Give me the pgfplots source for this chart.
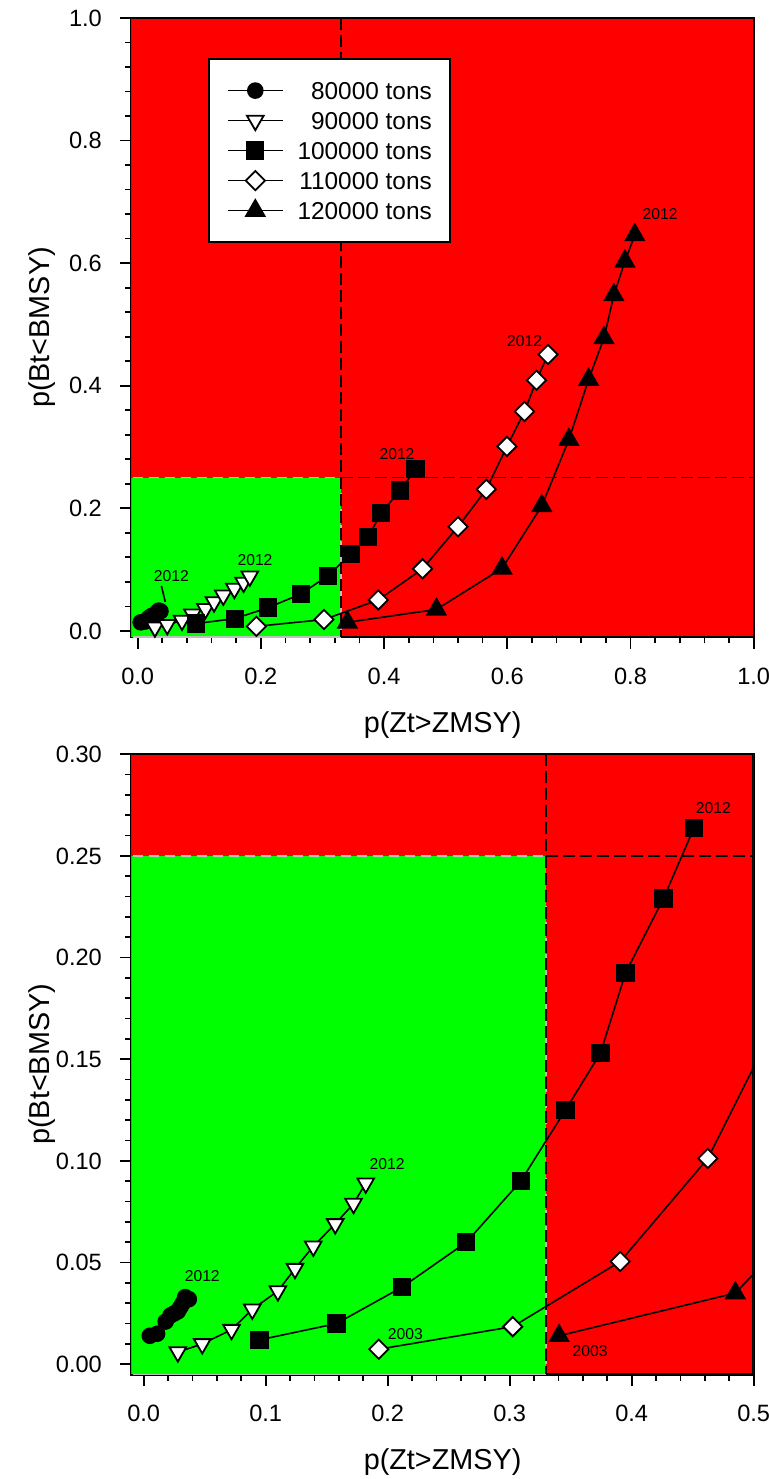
\documentclass[border=0pt]{standalone}
\usepackage{pgfplots}
\pgfplotsset{compat=1.18}
\usepackage{pgfplotstable}
\usepackage{fontspec}
\setmainfont{Liberation Sans}

\definecolor{zred}{RGB}{255,0,0}
\definecolor{zgreen}{RGB}{0,255,0}
\definecolor{zgrey}{RGB}{190,190,190}

% p(Zt>ZMSY)  p(Bt<BMSY), years 2003-2012
\pgfplotstableread{
x y
0.005 0.014
0.011 0.015
0.018 0.021
0.022 0.024
0.025 0.025
0.028 0.026
0.030 0.028
0.032 0.030
0.034 0.033
0.037 0.032
}\tEighty
\pgfplotstableread{
x y
0.028 0.006
0.048 0.010
0.072 0.017
0.089 0.027
0.110 0.036
0.124 0.047
0.139 0.058
0.157 0.069
0.172 0.079
0.182 0.089
}\tNinety
\pgfplotstableread{
x y
0.095 0.012
0.158 0.020
0.212 0.038
0.2645 0.060
0.309 0.090
0.3457 0.125
0.3744 0.153
0.395 0.1925
0.426 0.229
0.451 0.2636
}\tHundred
\pgfplotstableread{
x y
0.1927 0.0074
0.3025 0.0185
0.3906 0.0505
0.4624 0.1012
0.520 0.170
0.566 0.231
0.5995 0.301
0.628 0.358
0.6475 0.409
0.666 0.451
}\tHundredTen
\pgfplotstableread{
x y
0.3405 0.014
0.485 0.035
0.5915 0.102
0.656 0.204
0.700 0.312
0.732 0.410
0.757 0.478
0.773 0.548
0.791 0.603
0.807 0.646
}\tHundredTwenty

\tikzset{note/.style={font=\fontsize{7.85}{9}\selectfont, inner sep=0pt}}

\pgfplotsset{
  kobe/.style={
    scale only axis, width=311.1pt,
    xmin=-0.01,
    tick align=outside, tick pos=left,
    minor tick num=4,
    major tick length=5.8pt, minor tick length=3.2pt,
    every tick/.style={black, line width=0.85pt},
    axis line style={line width=1.2pt},
    ticklabel style={font=\fontsize{11.8}{14}\selectfont},
    xticklabel style={yshift=-6pt},
    yticklabel style={xshift=-5.5pt},
    /pgf/number format/assume math mode=true,
    label style={font=\fontsize{14.4}{17}\selectfont},
    xlabel={p(Zt>ZMSY)}, ylabel={p(Bt<BMSY)},
    xlabel style={at={(axis description cs:0.5,-0.142)}, anchor=center},
    ylabel style={at={(axis description cs:-0.1438,0.5)}, anchor=center},
    legend image code/.code={\draw[mark repeat=2,mark phase=2] plot coordinates {(0pt,0pt)(13.8pt,0pt)(27.6pt,0pt)};},
  },
  s80/.style={black, line width=0.8pt, mark=*, mark size=3.7pt, mark options={solid, fill=black, line width=0.9pt}},
  s90/.style={black, line width=0.8pt, mark=triangle*, mark size=4.8pt, mark options={solid, fill=white, line width=0.9pt, rotate=180}},
  s100/.style={black, line width=0.8pt, mark=square*, mark size=4.1pt, mark options={solid, fill=black, line width=0.9pt}},
  s110/.style={black, line width=0.8pt, mark=square*, mark size=3.4pt, mark options={solid, fill=white, line width=0.9pt, rotate=45}},
  s120/.style={black, line width=0.8pt, mark=triangle*, mark size=5.3pt, mark options={solid, fill=black, line width=0.9pt}},
}

\begin{document}
\begin{tikzpicture}
\useasboundingbox (0,0) rectangle (384.5pt,-739.5pt);

% upper panel: whole range
\begin{axis}[kobe, at={(65.75pt,-9pt)}, anchor=north west, height=309.5pt,
    xmax=1, ymin=-0.01, ymax=1,
    xtick={0,0.2,0.4,0.6,0.8,1}, ytick={0,0.2,0.4,0.6,0.8,1},
    xticklabel style={/pgf/number format/.cd, fixed, fixed zerofill, precision=1},
    yticklabel style={/pgf/number format/.cd, fixed, fixed zerofill, precision=1},
    legend cell align=right,
    legend style={at={(0.1228,0.9354)}, anchor=north west, draw=black, line width=1pt, fill=white,
      font=\fontsize{12.2}{14}\selectfont, inner xsep=9pt, inner ysep=8.3pt, row sep=0pt,
      nodes={inner xsep=0pt, inner ysep=3.1pt, text height=8.8pt, text depth=0pt}, column sep=6.9pt},
  ]
  \fill[zred] (axis cs:-0.01,-0.01) rectangle (axis cs:1,1);
  \draw[zred, line width=1pt] (axis cs:-0.01,-0.01) -- (axis cs:-0.01,1);
  \fill[zgreen] (axis cs:-0.01,-0.01) rectangle (axis cs:0.33,0.25);
  \draw[zgrey, line width=0.8pt] (axis cs:-0.008,-0.01) -- (axis cs:0.33,-0.01);
  \draw[zgrey, line width=0.8pt, dash pattern=on 5pt off 3pt] (axis cs:-0.008,0.25) -- (axis cs:0.33,0.25) -- (axis cs:0.33,-0.01);
  \draw[black, line width=1.2pt] (axis cs:-0.01,1) -- (axis cs:1,1) -- (axis cs:1,-0.01) -- (axis cs:0.33,-0.01);
  \draw[black, line width=0.8pt, dash pattern=on 6pt off 2.5pt] (axis cs:0.33,1) -- (axis cs:0.33,-0.01);
  \draw[black, line width=0.8pt, dash pattern=on 6pt off 2.5pt] (axis cs:0.33,0.25) -- (axis cs:1,0.25);

  \addplot[s80] table {\tEighty};
  \addplot[s90] table {\tNinety};
  \addplot[s100] table {\tHundred};
  \addplot[s110] table {\tHundredTen};
  \addplot[s120] table {\tHundredTwenty};
  \legend{80000 tons, 90000 tons, 100000 tons, 110000 tons, 120000 tons}

  \node[note] at (axis cs:0.0548,0.090) {2012};
  \draw[black, line width=0.8pt] (axis cs:0.0386,0.0734) -- (axis cs:0.0448,0.0473);
  \node[note] at (axis cs:0.1905,0.115) {2012};
  \node[note] at (axis cs:0.421,0.2887) {2012};
  \node[note] at (axis cs:0.628,0.4736) {2012};
  \node[note] at (axis cs:0.848,0.680) {2012};
\end{axis}

% lower panel: zoom on the green zone
\begin{axis}[kobe, at={(65.75pt,-377.1pt)}, anchor=north west, height=310.1pt,
    xmax=0.5, ymin=-0.005, ymax=0.3,
    xtick={0,0.1,0.2,0.3,0.4,0.5}, ytick={0,0.05,0.1,0.15,0.2,0.25,0.3},
    xticklabel style={/pgf/number format/.cd, fixed, fixed zerofill, precision=1},
    yticklabel style={/pgf/number format/.cd, fixed, fixed zerofill, precision=2},
  ]
  \fill[zred] (axis cs:-0.01,-0.005) rectangle (axis cs:0.5,0.3);
  \draw[zred, line width=1pt] (axis cs:-0.01,-0.005) -- (axis cs:-0.01,0.3);
  \fill[zgreen] (axis cs:-0.01,-0.005) rectangle (axis cs:0.33,0.25);
  \draw[zgrey, line width=0.8pt] (axis cs:-0.009,-0.005) -- (axis cs:0.33,-0.005);
  \draw[zgrey, line width=0.8pt, dash pattern=on 5pt off 3pt] (axis cs:-0.009,0.25) -- (axis cs:0.33,0.25) -- (axis cs:0.33,-0.005);
  \draw[black, line width=1.2pt] (axis cs:-0.01,0.3) -- (axis cs:0.5,0.3) -- (axis cs:0.5,-0.005) -- (axis cs:0.33,-0.005);
  \draw[black, line width=0.8pt, dash pattern=on 6pt off 2.5pt] (axis cs:0.33,0.3) -- (axis cs:0.33,-0.005);
  \draw[black, line width=0.8pt, dash pattern=on 6pt off 2.5pt] (axis cs:0.33,0.25) -- (axis cs:0.5,0.25);

  \addplot[s80] table {\tEighty};
  \addplot[s90] table {\tNinety};
  \addplot[s100] table {\tHundred};
  \addplot[s110] table {\tHundredTen};
  \addplot[s120] table {\tHundredTwenty};

  \node[note] at (axis cs:0.048,0.0433) {2012};
  \node[note] at (axis cs:0.1995,0.0985) {2012};
  \node[note] at (axis cs:0.467,0.2735) {2012};
  \node[note] at (axis cs:0.2145,0.0146) {2003};
  \node[note] at (axis cs:0.366,0.0067) {2003};
\end{axis}
\end{tikzpicture}
\end{document}
